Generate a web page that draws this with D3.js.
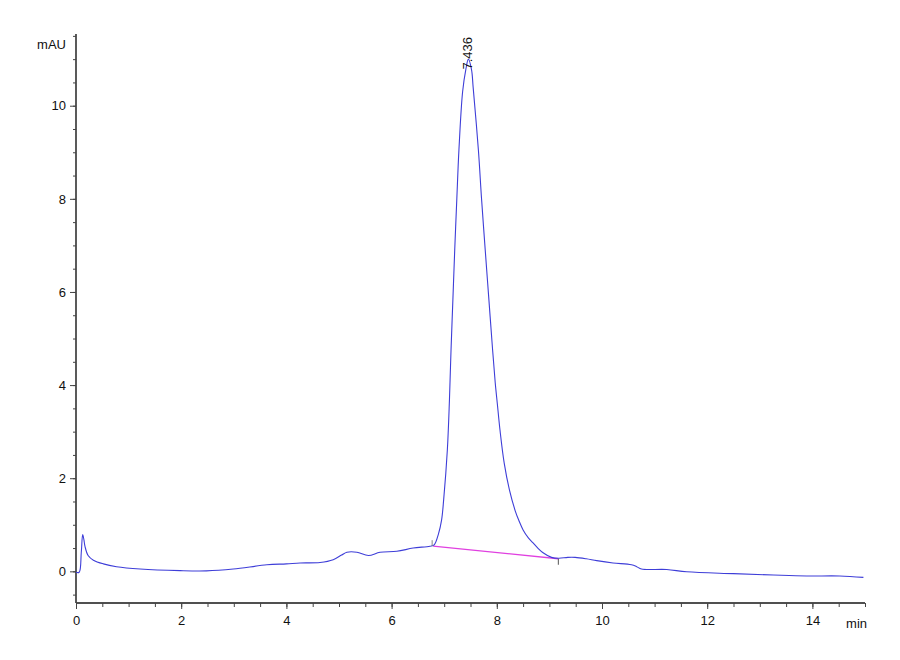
<!DOCTYPE html>
<html><head><meta charset="utf-8">
<script src="https://cdn.jsdelivr.net/npm/d3@7"></script>
<style>body{margin:0;background:#fff}svg{display:block}text{font-family:"Liberation Sans",Arial,sans-serif}</style>
</head><body><svg id="c" width="900" height="660"></svg>
<script>
const time = [0,0.06,0.10,0.127,0.15,0.17,0.23,0.33,0.52,0.77,1.22,1.98,2.48,2.99,3.63,4.0,4.26,4.64,4.89,5.05,5.15,5.34,5.56,5.78,6.10,6.41,6.73,6.81,6.89,6.95,6.99,7.06,7.10,7.13,7.165,7.20,7.24,7.28,7.35,7.41,7.46,7.52,7.55,7.65,7.71,7.78,7.85,7.92,7.97,8.01,8.06,8.14,8.24,8.35,8.42,8.50,8.60,8.69,8.78,8.88,9.04,9.18,9.35,9.49,9.70,9.90,10.21,10.56,10.66,10.75,11.23,11.61,12.50,13.26,13.89,14.52,14.97];
const signal = [-0.02,-0.02,0.4,0.79,0.68,0.54,0.34,0.24,0.16,0.10,0.05,0.015,0.01,0.05,0.14,0.16,0.18,0.19,0.25,0.35,0.41,0.41,0.34,0.41,0.43,0.50,0.54,0.57,0.80,1.10,1.54,2.61,3.69,4.76,5.83,6.90,8.0,9.05,10.3,10.77,11.0,10.77,10.4,9.05,8.0,6.90,5.83,4.76,4.05,3.6,3.04,2.33,1.75,1.30,1.09,0.89,0.72,0.61,0.50,0.40,0.30,0.28,0.30,0.30,0.27,0.23,0.18,0.14,0.10,0.05,0.04,-0.01,-0.05,-0.08,-0.10,-0.10,-0.13];
const baselineT = [6.79, 9.17];
const baselineV = [0.54, 0.27];
const peakTime = [7.436];
const peakLabel = ["7.436"];
const peakHeight = [10.95];
const xTicks = [0,2,4,6,8,10,12,14];
const yTicks = [0,2,4,6,8,10];

const svg = d3.select("#c");
const x = d3.scaleLinear().domain([0,15]).range([76,865]);
const y = d3.scaleLinear().domain([-0.68,11.54]).range([603,34]);

const gx = svg.append("g").attr("transform","translate(0,603)")
  .call(d3.axisBottom(x).tickValues(d3.range(0,15.01,0.5)).tickSize(4).tickFormat(""));
const gx2 = svg.append("g").attr("transform","translate(0,603)")
  .call(d3.axisBottom(x).tickValues(xTicks).tickSize(6).tickPadding(7).tickFormat(d3.format("d")));
const gy = svg.append("g").attr("transform","translate(76,0)")
  .call(d3.axisLeft(y).tickValues(d3.range(-0.5,11.51,0.5)).tickSize(3).tickFormat(""));
const gy2 = svg.append("g").attr("transform","translate(76,0)")
  .call(d3.axisLeft(y).tickValues(yTicks).tickSize(6).tickPadding(4).tickFormat(d3.format("d")));
[gx,gx2,gy,gy2].forEach(g=>{
  g.selectAll(".domain").attr("stroke","#444").attr("stroke-width",1.3);
  g.selectAll(".tick line").attr("stroke","#444");
  g.selectAll("text").attr("font-size",13).attr("fill","#111");
});
gx.select(".domain").attr("d","M76,0H865");
gx2.select(".domain").attr("d","M76,0H865");
gy.select(".domain").attr("d","M0,603V34");
gy2.select(".domain").attr("d","M0,603V34");

svg.append("text").attr("x",66).attr("y",49).attr("text-anchor","end").attr("font-size",13).attr("fill","#111").text("mAU");
svg.append("text").attr("x",867).attr("y",628).attr("text-anchor","end").attr("font-size",13).attr("fill","#111").text("min");

const data = time.map((t,i)=>({t,v:signal[i]}));
svg.append("line").attr("x1",x(baselineT[0])).attr("y1",y(baselineV[0])).attr("x2",x(baselineT[1])).attr("y2",y(baselineV[1]))
  .attr("stroke","#e040e0").attr("stroke-width",1.3);
svg.append("path").datum(data).attr("fill","none").attr("stroke","#3e3ed8").attr("stroke-width",1.1)
  .attr("d",d3.line().x(d=>x(d.t)).y(d=>y(d.v)).curve(d3.curveCatmullRom.alpha(0.5)));
svg.append("line").attr("x1",x(baselineT[0])-1).attr("x2",x(baselineT[0])-1).attr("y1",y(baselineV[0])-6).attr("y2",y(baselineV[0])).attr("stroke","#888").attr("stroke-width",1);
svg.append("line").attr("x1",x(baselineT[1])).attr("x2",x(baselineT[1])).attr("y1",y(baselineV[1])).attr("y2",y(baselineV[1])+6).attr("stroke","#555").attr("stroke-width",1);
peakTime.forEach((pt,i)=>{
  svg.append("text").attr("transform",`translate(${x(pt)+5},${y(peakHeight[i])+8}) rotate(-90)`)
    .attr("font-size",13).attr("fill","#111").text(peakLabel[i]);
});
</script></body></html>
